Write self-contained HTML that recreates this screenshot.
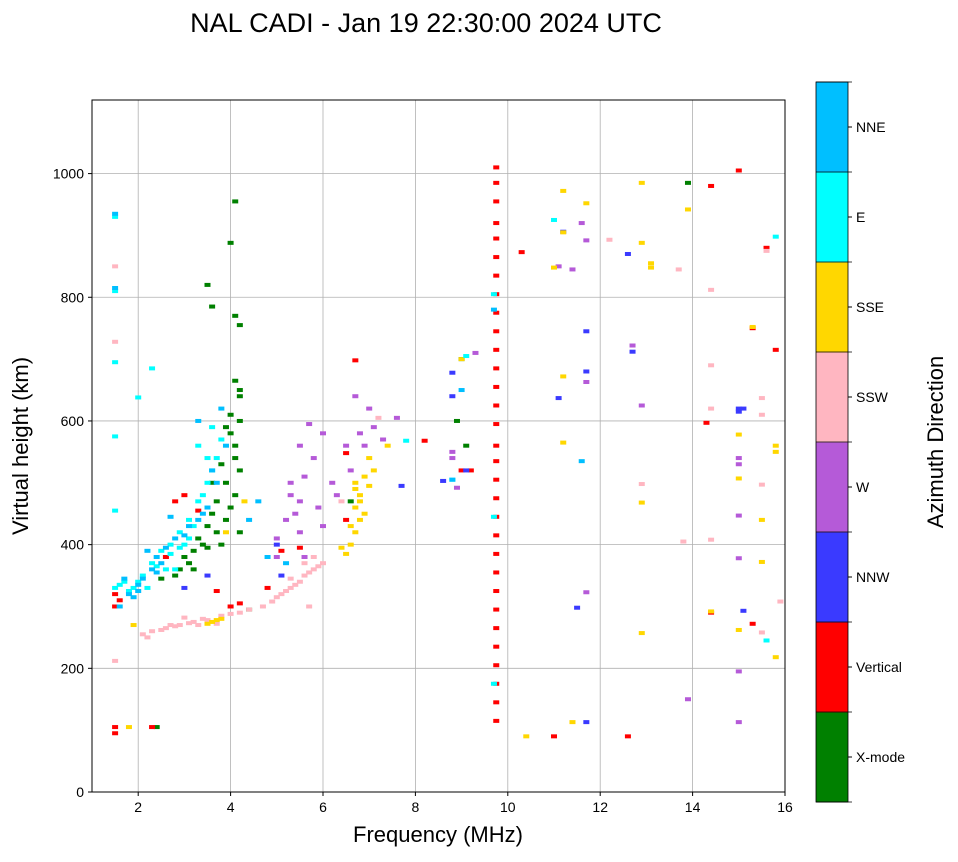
<!DOCTYPE html>
<html><head><meta charset="utf-8"><style>
body{margin:0;background:#fff;}
svg text{font-family:"Liberation Sans",sans-serif;}
</style></head><body>
<svg id="chart" width="958" height="857" xmlns="http://www.w3.org/2000/svg"></svg>
<script>
const xTicks=[2,4,6,8,10,12,14,16];
const yTicks=[0,200,400,600,800,1000];
const dirNames=["X-mode","Vertical","NNW","W","SSW","SSE","E","NNE"];
const dirColors=["#008000","#ff0000","#3a3aff","#b55ad8","#ffb6c1","#ffd700","#00ffff","#00bfff"];
const xmode=[[4.1,955],[4,888],[3.5,820],[3.6,785],[4.1,770],[4.2,755],[4.1,665],[4.2,650],[4.0,610],[3.9,590],[4.1,560],[3.8,530],[4.2,520],[3.7,470],[3.5,430],[3.3,410],[3.0,380],[2.9,360],[3.8,400],[4.2,420],[13.9,985],[8.9,600],[9.1,560],[9.0,700],[4.4,295],[3.6,500],[4.0,460],[2.5,345],[2.4,105],[6.6,470],[3.2,390],[4.2,640],[4.0,580],[4.1,540],[3.9,500],[3.6,450],[3.4,400],[3.1,370],[2.8,350],[3.7,420],[4.1,480],[4.2,600],[3.9,440],[3.2,360],[3.5,395]];
const vertical=[[9.75,115],[9.75,145],[9.75,175],[9.75,205],[9.75,235],[9.75,265],[9.75,295],[9.75,325],[9.75,355],[9.75,385],[9.75,415],[9.75,445],[9.75,475],[9.75,505],[9.75,535],[9.75,560],[9.75,595],[9.75,625],[9.75,655],[9.75,685],[9.75,715],[9.75,745],[9.75,775],[9.75,805],[9.75,835],[9.75,865],[9.75,895],[9.75,920],[9.75,955],[9.75,985],[9.75,1010],[1.5,95],[1.5,105],[1.5,300],[1.5,320],[2.3,105],[15,1005],[14.4,980],[15.6,880],[15.8,715],[15.3,750],[15.3,272],[14.4,290],[12.6,90],[11,90],[9,520],[9.2,520],[8.2,568],[6.7,698],[6.5,548],[4.2,305],[3.7,325],[5.5,395],[3,480],[2.6,380],[14.3,597],[10.3,873],[5.1,390],[1.6,310],[3.3,455],[4.0,300],[4.8,330],[6.5,440],[2.8,470]];
const nnw=[[12.6,870],[12.7,712],[11.7,745],[11.7,680],[11.1,637],[11.5,298],[11.7,113],[15,620],[15,615],[8.8,640],[8.8,678],[8.6,503],[9.1,520],[15.1,293],[3.5,350],[3,330],[5.1,350],[7.7,495],[11.2,906],[5,400],[15.1,620]];
const west=[[11.6,920],[11.7,892],[11.7,663],[12.7,722],[12.9,625],[15,540],[15,530],[15,447],[15,378],[15,195],[15,113],[13.9,150],[11.7,323],[11.4,845],[8.8,550],[8.8,540],[8.9,492],[5.5,560],[5.8,540],[5.3,500],[5.5,470],[6.3,480],[6.8,580],[7,620],[7.3,570],[7.6,605],[6.5,560],[5.7,595],[5.2,440],[5.5,420],[6,430],[6.7,640],[11.1,850],[9.3,710],[5,380],[5.4,450],[5.6,510],[5.9,460],[6.2,500],[6.6,520],[6.9,560],[7.1,590],[6.0,580],[5.3,480],[5.0,410],[5.6,380]];
const ssw=[[1.5,850],[1.5,728],[2.1,255],[2.3,260],[2.6,265],[2.9,270],[3.2,275],[3.4,280],[3.8,285],[4.2,290],[4.7,300],[5,315],[5.3,330],[5.5,340],[5.8,360],[6,370],[5.6,350],[15.5,637],[15.5,610],[15.5,497],[15.5,258],[14.4,690],[14.4,620],[14.4,812],[14.4,408],[13.7,845],[13.8,405],[12.9,498],[1.5,212],[2.7,270],[3.0,282],[4.9,308],[5.2,325],[15.6,875],[15.9,308],[12.2,893],[6.4,470],[7.2,605],[5.7,300],[2.2,250],[2.5,262],[2.8,268],[3.1,273],[3.5,278],[3.7,272],[4.0,288],[4.4,295],[5.1,320],[5.4,335],[5.7,355],[5.9,365],[5.6,370],[5.3,345],[5.8,380],[3.3,270]];
const sse=[[11.2,972],[11.2,905],[11.7,952],[12.9,985],[12.9,888],[13.1,855],[13.9,942],[13.1,848],[11,848],[11.2,672],[11.2,565],[12.9,468],[12.9,257],[14.4,292],[15,578],[15,507],[15,262],[15.5,440],[15.5,372],[15.8,560],[15.8,550],[15.8,218],[15.3,752],[10.4,90],[11.4,113],[1.8,105],[1.9,270],[3.6,275],[3.8,280],[6.7,500],[6.8,480],[6.9,450],[6.7,420],[6.6,400],[6.4,395],[7.1,520],[7,540],[7.4,560],[9,700],[4.3,470],[3.9,420],[6.7,460],[6.8,440],[6.6,430],[6.7,490],[6.9,510],[6.5,385],[3.7,278],[3.5,272],[6.8,470],[7.0,495]];
const east=[[1.5,930],[1.5,810],[1.5,695],[2.3,685],[2,638],[1.5,575],[1.5,455],[1.5,330],[1.7,340],[1.9,330],[2.1,350],[2.3,370],[2.5,390],[2.7,400],[2.9,420],[3.1,440],[3.3,470],[3.5,500],[3.7,540],[3.6,590],[3.3,560],[15.8,898],[15.6,245],[11,925],[9.7,805],[9.7,445],[9.7,175],[9.1,705],[7.8,568],[2.8,360],[3.0,400],[2.2,330],[2.6,360],[8.8,505],[1.8,325],[2.0,340],[2.4,365],[2.9,395],[3.2,430],[3.4,480],[3.6,520],[3.1,410],[2.7,385],[3.5,540],[3.8,570],[1.6,335]];
const nne=[[1.5,935],[1.5,815],[1.6,300],[1.8,320],[2,335],[2.4,380],[2.8,410],[3.1,430],[3.4,450],[3.9,560],[3.3,600],[3.8,620],[4.4,440],[4.8,380],[5.2,370],[8.8,505],[9,650],[9.7,780],[11.6,535],[4.6,470],[2.2,390],[2.7,445],[3.6,520],[1.7,345],[1.9,315],[2.1,345],[2.3,360],[2.5,370],[2.6,395],[3.0,415],[3.3,440],[3.5,460],[3.7,500],[2.0,325],[2.4,355]];
const series=[xmode,vertical,nnw,west,ssw,sse,east,nne];

const NS="http://www.w3.org/2000/svg";
const svg=document.getElementById('chart');
const L=92,R=785,T=100,B=792,xMin=1,xMax=16,yMin=0,yMax=1119;
const xs=v=>L+(v-xMin)/(xMax-xMin)*(R-L);
const ys=v=>B-(v-yMin)/(yMax-yMin)*(B-T);
function mk(tag,attrs,parent){const e=document.createElementNS(NS,tag);for(const k in attrs)e.setAttribute(k,attrs[k]);(parent||svg).appendChild(e);return e;}
function txt(s,attrs){const e=mk('text',attrs);e.textContent=s;return e;}

let t=txt("NAL CADI - Jan 19 22:30:00 2024 UTC",{x:426,y:32,'font-size':27,'text-anchor':'middle'});


const grid=mk('g',{});

xTicks.forEach(v=>{
  const g=mk('line',{x1:xs(v),x2:xs(v),y1:T,y2:B,stroke:'#b0b0b0','stroke-width':0.8},grid);
  
  mk('line',{x1:xs(v),x2:xs(v),y1:B,y2:B+4,stroke:'#000'});
  const l=txt(String(v),{x:xs(v),y:B+20,'font-size':14,'text-anchor':'middle'});
  
});
yTicks.forEach(v=>{
  const g=mk('line',{x1:L,x2:R,y1:ys(v),y2:ys(v),stroke:'#b0b0b0','stroke-width':0.8},grid);
  
  mk('line',{x1:L-4,x2:L,y1:ys(v),y2:ys(v),stroke:'#000'});
  const l=txt(String(v),{x:L-8,y:ys(v)+5,'font-size':14,'text-anchor':'end'});
  
});

series.forEach((pts,i)=>{
  const g=mk('g',{fill:dirColors[i]});
  
  
  pts.forEach(p=>{
    const r=mk('rect',{x:xs(p[0])-3,y:ys(p[1])-2,width:6,height:4},g);
    
    
  });
});

const frame=mk('rect',{x:L,y:T,width:R-L,height:B-T,fill:'none',stroke:'#000','stroke-width':1});


t=txt("Frequency (MHz)",{x:438,y:842,'font-size':22,'text-anchor':'middle'});

t=txt("Virtual height (km)",{x:0,y:0,'font-size':22,'text-anchor':'middle',transform:'translate(28,446) rotate(-90)'});


const cbT=82,cbB=802,cbL=816,cbW=32,seg=(cbB-cbT)/dirNames.length;
dirNames.forEach((n,i)=>{
  const y0=cbB-(i+1)*seg;
  const r=mk('rect',{x:cbL,y:y0,width:cbW,height:seg+0.5,fill:dirColors[i]});
  
  const yc=y0+seg/2;
  mk('line',{x1:cbL+cbW,x2:cbL+cbW+4,y1:yc,y2:yc,stroke:'#000'});
  const l=txt(n,{x:cbL+cbW+8,y:yc+5,'font-size':14});
  
});
for(let i=0;i<=dirNames.length;i++){const y=cbT+i*seg;mk('line',{x1:cbL,x2:cbL+cbW+4,y1:y,y2:y,stroke:'#000','stroke-width':0.8});}
const cf=mk('rect',{x:cbL,y:cbT,width:cbW,height:cbB-cbT,fill:'none',stroke:'#000','stroke-width':0.8});

t=txt("Azimuth Direction",{x:0,y:0,'font-size':22,'text-anchor':'middle',transform:'translate(943,442) rotate(-90)'});

</script>
</body></html>
